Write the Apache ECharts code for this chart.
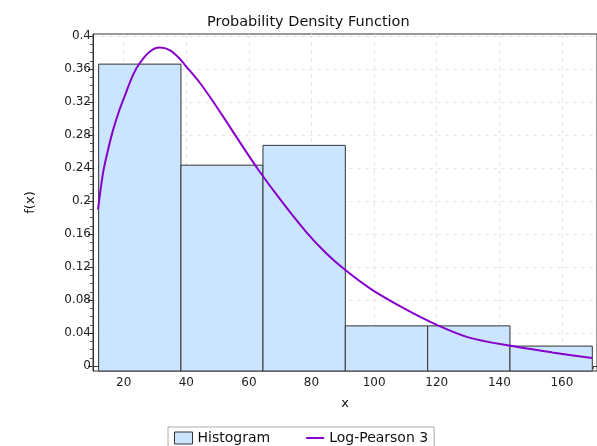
<!DOCTYPE html>
<html>
<head>
<meta charset="utf-8">
<script src="https://cdn.jsdelivr.net/npm/echarts@6/dist/echarts.min.js"></script>
<style>
  html, body { margin: 0; padding: 0; background: #fff; }
  #chart { width: 597px; height: 446px; }
</style>
</head>
<body>
<div id="chart"></div>
<script>
// histogram bins (edges) and relative frequencies
var binEdges = [12, 38.3, 64.5, 90.8, 117.1, 143.4, 169.7];
var binHeights = [0.366, 0.2435, 0.2675, 0.0487, 0.0487, 0.0242];

// Log-Pearson 3 curve
var curveX = [11.8, 13.4, 15.0, 16.6, 18.7, 20.9, 23.0, 25.1, 28.3, 31.5, 34.7, 37.5, 40.0, 44.2, 48.5, 52.7, 57.0, 63.0, 70.8, 78.2, 84.6, 90.6, 99.5, 110.0, 120.0, 130.4, 143.6, 156.9, 169.6];
var curveY = [0.190, 0.234, 0.262, 0.286, 0.311, 0.333, 0.353, 0.367, 0.381, 0.386, 0.383, 0.374, 0.363, 0.344, 0.321, 0.297, 0.272, 0.238, 0.198, 0.163, 0.137, 0.117, 0.092, 0.069, 0.050, 0.0345, 0.0245, 0.0165, 0.0097];

// tick labels
var xTicks = [20, 40, 60, 80, 100, 120, 140, 160];
var xMinorTicks = [15, 25, 30, 35, 45, 50, 55, 65, 70, 75, 85, 90, 95, 105, 110, 115, 125, 130, 135, 145, 150, 155, 165, 170];
var yTicks = [0, 0.04, 0.08, 0.12, 0.16, 0.2, 0.24, 0.28, 0.32, 0.36, 0.4];
var yMinorTicks = [0.01, 0.02, 0.03, 0.05, 0.06, 0.07, 0.09, 0.1, 0.11, 0.13, 0.14, 0.15, 0.17, 0.18, 0.19, 0.21, 0.22, 0.23, 0.25, 0.26, 0.27, 0.29, 0.3, 0.31, 0.33, 0.34, 0.35, 0.37, 0.38, 0.39];

var xMin = 10.2, xMax = 171.2;
var yMin = -0.006, yMax = 0.4025;

var histData = [];
for (var i = 0; i < binHeights.length; i++) {
    histData.push([binEdges[i], binEdges[i + 1], binHeights[i]]);
}
var curveData = curveX.map(function (x, i) { return [x, curveY[i]]; });

var fontFam = 'DejaVu Sans, Verdana, sans-serif';
var chart = echarts.init(document.getElementById('chart'));
chart.setOption({
    animation: false,
    textStyle: { fontFamily: fontFam },
    title: {
        text: 'Probability Density Function',
        left: 202,
        top: 10,
        textStyle: { fontSize: 14.5, fontWeight: 'normal', color: '#111', fontFamily: fontFam }
    },
    grid: {
        left: 93, right: -1, top: 34, bottom: 75,
        show: true, borderColor: '#333', borderWidth: 1
    },
    legend: {
        left: 168,
        top: 427,
        padding: [4, 6, 6, 6],
        borderColor: '#aaa',
        borderWidth: 1,
        itemWidth: 18,
        itemHeight: 12,
        itemGap: 35,
        textStyle: { fontSize: 14, color: '#111', fontFamily: fontFam },
        data: [
            { name: 'Histogram', icon: 'rect', itemStyle: { color: '#cce5ff', borderColor: '#333', borderWidth: 1 } },
            { name: 'Log-Pearson 3', itemStyle: { color: 'rgba(0,0,0,0)', borderColor: 'rgba(0,0,0,0)', borderWidth: 0 } }
        ]
    },
    xAxis: [{
        type: 'value',
        min: xMin, max: xMax,
        name: 'x',
        nameLocation: 'middle',
        nameGap: 26,
        nameTextStyle: { fontSize: 13, color: '#111' },
        axisLine: { lineStyle: { color: '#333' } },
        axisTick: { length: 5, customValues: xTicks, lineStyle: { color: '#333' } },
        axisLabel: { customValues: xTicks, fontSize: 12, color: '#222', margin: 6 },
        splitLine: { show: true, lineStyle: { color: '#e6e6e6', type: [4, 4] } }
    }, {
        type: 'value',
        min: xMin, max: xMax,
        position: 'bottom',
        axisLine: { show: false },
        axisTick: { length: 3, customValues: xMinorTicks, lineStyle: { color: '#555' } },
        axisLabel: { show: false },
        splitLine: { show: false }
    }],
    yAxis: [{
        type: 'value',
        min: yMin, max: yMax,
        name: 'f(x)',
        nameLocation: 'middle',
        nameGap: 56,
        nameTextStyle: { fontSize: 13, color: '#111' },
        axisLine: { show: true, lineStyle: { color: '#333' } },
        axisTick: { show: true, length: 5, customValues: yTicks, lineStyle: { color: '#333' } },
        axisLabel: { customValues: yTicks, fontSize: 12, color: '#222', margin: 2 },
        splitLine: { show: true, lineStyle: { color: '#e6e6e6', type: [4, 4] } }
    }, {
        type: 'value',
        min: yMin, max: yMax,
        position: 'left',
        axisLine: { show: false },
        axisTick: { show: true, length: 3, customValues: yMinorTicks, lineStyle: { color: '#555' } },
        axisLabel: { show: false },
        splitLine: { show: false }
    }],
    series: [{
        name: 'Histogram',
        type: 'custom',
        z: 2,
        encode: { x: [0, 1], y: 2 },
        data: histData,
        renderItem: function (params, api) {
            var top = api.coord([api.value(0), api.value(2)]);
            var bottom = api.coord([api.value(1), yMin]);
            return {
                type: 'rect',
                shape: { x: top[0], y: top[1], width: bottom[0] - top[0], height: bottom[1] - top[1] },
                style: { fill: '#cce5ff', stroke: '#333', lineWidth: 1 }
            };
        }
    }, {
        name: 'Log-Pearson 3',
        type: 'line',
        z: 3,
        symbol: 'none',
        smooth: 0.3,
        data: curveData,
        lineStyle: { color: '#8800cc', width: 2 },
        itemStyle: { color: '#8800cc' }
    }]
});
</script>
</body>
</html>
